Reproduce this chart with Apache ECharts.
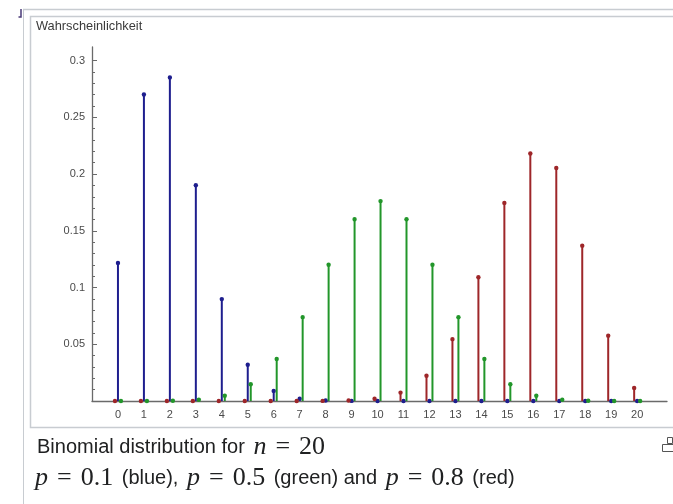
<!DOCTYPE html>
<html>
<head>
<meta charset="utf-8">
<script src="https://cdn.jsdelivr.net/npm/echarts@6/dist/echarts.min.js"></script>
<style>
  html, body { margin: 0; padding: 0; background: #ffffff; }
  #chart { width: 673px; height: 504px; }
</style>
</head>
<body>
<div id="chart"></div>
<script>
// Number of successes k = 0..20 (n = 20)
const kValues = [0, 1, 2, 3, 4, 5, 6, 7, 8, 9, 10, 11, 12, 13, 14, 15, 16, 17, 18, 19, 20];
const xTickLabels = ['0', '1', '2', '3', '4', '5', '6', '7', '8', '9', '10', '11', '12', '13', '14', '15', '16', '17', '18', '19', '20'];

// Probabilities P(X = k)
const probBlue = [0.1216, 0.2702, 0.2852, 0.1901, 0.0898, 0.0319, 0.0089, 0.0020, 0.0004, 0.0001, 0.0000,
                  0.0000, 0.0000, 0.0000, 0.0000, 0.0000, 0.0000, 0.0000, 0.0000, 0.0000, 0.0000];
const probGreen = [0.0000, 0.0000, 0.0002, 0.0011, 0.0046, 0.0148, 0.0370, 0.0739, 0.1201, 0.1602, 0.1762,
                   0.1602, 0.1201, 0.0739, 0.0370, 0.0148, 0.0046, 0.0011, 0.0002, 0.0000, 0.0000];
const probRed = [0.0000, 0.0000, 0.0000, 0.0000, 0.0000, 0.0000, 0.0000, 0.0000, 0.0001, 0.0005, 0.0020,
                 0.0074, 0.0222, 0.0545, 0.1091, 0.1746, 0.2182, 0.2054, 0.1369, 0.0576, 0.0115];

// Y axis ticks
const yTickValues = [0, 0.05, 0.1, 0.15, 0.2, 0.25, 0.3];
const yTickLabels = ['', '0.05', '0.1', '0.15', '0.2', '0.25', '0.3'];
const yMinorTickValues = [0.01, 0.02, 0.03, 0.04, 0.06, 0.07, 0.08, 0.09, 0.11, 0.12, 0.13, 0.14,
                          0.16, 0.17, 0.18, 0.19, 0.21, 0.22, 0.23, 0.24, 0.26, 0.27, 0.28, 0.29];

const SANS = 'Liberation Sans, Arial, sans-serif';
const SERIF = 'Liberation Serif, Times New Roman, serif';
const AXIS_COLOR = '#6a6a6a';
const TEXT_COLOR = '#202122';

function stemSeries(name, values, color, shift) {
  return {
    type: 'custom',
    name: name,
    data: kValues.map((k, i) => [k, values[i]]),
    renderItem: function (params, api) {
      const x = api.value(0) + shift;
      const top = api.coord([x, api.value(1)]);
      const base = api.coord([x, 0]);
      return {
        type: 'group',
        children: [
          { type: 'line', shape: { x1: base[0], y1: base[1], x2: top[0], y2: top[1] },
            style: { stroke: color, lineWidth: 2 } },
          { type: 'circle', shape: { cx: top[0], cy: top[1], r: 2.2 },
            style: { fill: color } }
        ]
      };
    }
  };
}

// Caption styles: sans text with TeX-like math (italic variables, wide spacing around "=")
function captionRich(sansSize) {
  return {
    s: { fontFamily: SANS, fontSize: sansSize, fill: TEXT_COLOR },
    mi: { fontFamily: SERIF, fontStyle: 'italic', fontSize: 26, fill: TEXT_COLOR, padding: [0, 0, 0, 3] },
    eq: { fontFamily: SERIF, fontSize: 26, fill: TEXT_COLOR, padding: [0, 9] },
    m: { fontFamily: SERIF, fontSize: 26, fill: TEXT_COLOR, padding: [0, 3, 0, 0] }
  };
}

const chart = echarts.init(document.getElementById('chart'), null, { renderer: 'canvas' });

chart.setOption({
  animation: false,
  backgroundColor: '#ffffff',
  grid: { left: 92, right: 6, top: 47, bottom: 103 },
  xAxis: {
    type: 'value',
    min: -1,
    max: 21.15,
    axisLine: { show: true, onZero: false, lineStyle: { color: AXIS_COLOR, width: 1.3 } },
    axisTick: { show: false },
    splitLine: { show: false },
    axisLabel: {
      customValues: kValues,
      formatter: function (v) { return xTickLabels[kValues.indexOf(Math.round(v))] || ''; },
      fontFamily: SANS, fontSize: 11, color: '#4a4a4a', margin: 8
    }
  },
  yAxis: [
    {
      type: 'value',
      min: 0,
      max: 0.312,
      position: 'left',
      axisLine: { show: true, onZero: false, lineStyle: { color: AXIS_COLOR, width: 1.3 } },
      axisTick: { show: true, inside: true, length: 5, customValues: yTickValues,
                  lineStyle: { color: AXIS_COLOR, width: 1 } },
      splitLine: { show: false },
      axisLabel: {
        customValues: yTickValues,
        formatter: function (v) {
          const i = yTickValues.findIndex(t => Math.abs(t - v) < 1e-9);
          return i >= 0 ? yTickLabels[i] : '';
        },
        fontFamily: SANS, fontSize: 11, color: '#4a4a4a', margin: 7
      }
    },
    {
      type: 'value',
      min: 0,
      max: 0.312,
      position: 'left',
      offset: 0,
      axisLine: { show: false, onZero: false },
      axisTick: { show: true, inside: true, length: 3, customValues: yMinorTickValues,
                  lineStyle: { color: AXIS_COLOR, width: 1 } },
      axisLabel: { show: false },
      splitLine: { show: false }
    }
  ],
  series: [
    stemSeries('p = 0.1', probBlue, '#1e1e8e', 0),
    stemSeries('p = 0.5', probGreen, '#22962a', 0.115),
    stemSeries('p = 0.8', probRed, '#9e2629', -0.115)
  ],
  graphic: [
    // outer thumbnail frame
    { type: 'line', z: -10, shape: { x1: 23.5, y1: 9, x2: 23.5, y2: 504 }, style: { stroke: '#c8ccd1', lineWidth: 1 } },
    { type: 'line', z: -10, shape: { x1: 23, y1: 9.5, x2: 673, y2: 9.5 }, style: { stroke: '#c8ccd1', lineWidth: 1.5 } },
    // image border
    { type: 'rect', z: -10, shape: { x: 30.5, y: 16.5, width: 700, height: 411 },
      style: { fill: 'none', stroke: '#c8ccd1', lineWidth: 1.5 } },
    // small mark at the top-left corner
    { type: 'polyline', z: -5, shape: { points: [[21, 9], [21, 17], [18.5, 17]] },
      style: { stroke: '#4a3a78', lineWidth: 1.5, fill: 'none' } },
    // y axis title
    { type: 'text', left: 36, top: 20,
      style: { text: 'Wahrscheinlichkeit', font: '12.8px ' + SANS, fill: '#3a3a3a' } },
    // caption
    { type: 'text', x: 37, y: 447,
      style: {
        text: '{s|Binomial distribution for }{mi|n}{eq|=}{m|20}',
        verticalAlign: 'middle',
        rich: captionRich(20)
      } },
    { type: 'text', x: 32, y: 478,
      style: {
        text: '{mi|p}{eq|=}{m|0.1}{s| (blue), }{mi|p}{eq|=}{m|0.5}{s| (green) and }{mi|p}{eq|=}{m|0.8}{s| (red)}',
        verticalAlign: 'middle',
        rich: captionRich(20)
      } },
    // enlarge icon
    { type: 'rect', shape: { x: 667.5, y: 437.5, width: 5, height: 6 }, style: { fill: 'none', stroke: '#555', lineWidth: 1 } },
    { type: 'rect', shape: { x: 662.5, y: 444.5, width: 11, height: 7 }, style: { fill: '#fff', stroke: '#555', lineWidth: 1 } }
  ]
});
</script>
</body>
</html>
